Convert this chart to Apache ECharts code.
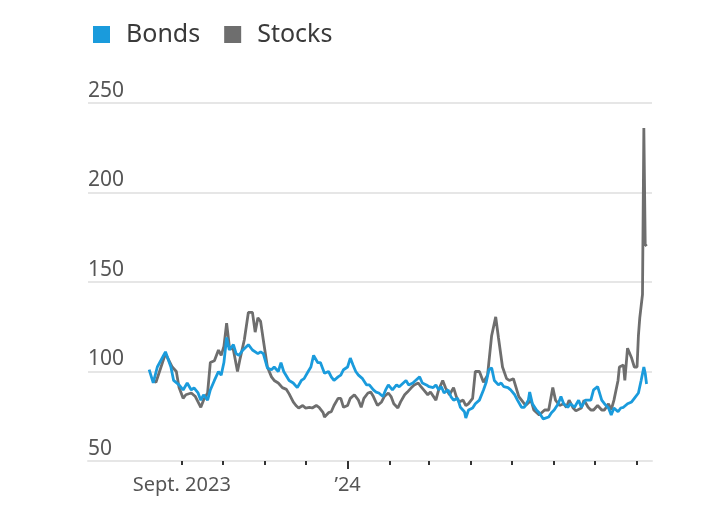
<!DOCTYPE html>
<html>
<head>
<meta charset="utf-8">
<script src="https://cdn.jsdelivr.net/npm/echarts@6/dist/echarts.min.js"></script>
<style>
  html, body { margin: 0; padding: 0; background: #fff; }
  #chart { width: 727px; height: 520px; }
</style>
</head>
<body>
<div id="chart"></div>
<script>
// Bonds vs Stocks, daily-ish readings
const bondDates = [
  '2023-08-08','2023-08-11','2023-08-14','2023-08-20','2023-08-24','2023-08-26','2023-08-30',
  '2023-09-02','2023-09-05','2023-09-08','2023-09-10','2023-09-13','2023-09-15','2023-09-17','2023-09-20','2023-09-22','2023-09-25','2023-09-28','2023-09-30',
  '2023-10-02','2023-10-04','2023-10-06','2023-10-09','2023-10-11','2023-10-13','2023-10-16','2023-10-20','2023-10-23','2023-10-27','2023-10-29','2023-10-31',
  '2023-11-03','2023-11-06','2023-11-08','2023-11-11','2023-11-13','2023-11-15','2023-11-19','2023-11-22','2023-11-25','2023-11-28','2023-11-30',
  '2023-12-03','2023-12-05','2023-12-07','2023-12-10','2023-12-12','2023-12-15','2023-12-18','2023-12-20','2023-12-22','2023-12-25','2023-12-27','2023-12-29',
  '2024-01-01','2024-01-03','2024-01-05','2024-01-07','2024-01-09','2024-01-12','2024-01-15','2024-01-17','2024-01-20','2024-01-22','2024-01-24','2024-01-27','2024-01-29','2024-01-31',
  '2024-02-03','2024-02-06','2024-02-08','2024-02-11','2024-02-13','2024-02-15','2024-02-18','2024-02-20','2024-02-23','2024-02-25','2024-02-28',
  '2024-03-01','2024-03-04','2024-03-06','2024-03-08','2024-03-10','2024-03-12','2024-03-15','2024-03-17','2024-03-19','2024-03-22','2024-03-24','2024-03-27','2024-03-28','2024-03-30',
  '2024-04-02','2024-04-04','2024-04-07','2024-04-10','2024-04-12','2024-04-14','2024-04-16','2024-04-18','2024-04-21','2024-04-23','2024-04-25','2024-04-28','2024-04-30',
  '2024-05-03','2024-05-05','2024-05-08','2024-05-10','2024-05-13','2024-05-14','2024-05-16','2024-05-19','2024-05-21','2024-05-24','2024-05-28','2024-05-30',
  '2024-06-01','2024-06-04','2024-06-06','2024-06-08','2024-06-11','2024-06-13','2024-06-16','2024-06-19','2024-06-21','2024-06-24','2024-06-28','2024-06-30',
  '2024-07-03','2024-07-06','2024-07-08','2024-07-11','2024-07-13','2024-07-15','2024-07-18','2024-07-20','2024-07-22','2024-07-25','2024-07-28','2024-07-30',
  '2024-08-02','2024-08-04','2024-08-06','2024-08-07','2024-08-08'
];
const bondValues = [
  101, 93.6, 102.5, 111, 102.5, 95, 92.5,
  89.7, 93.6, 89.7, 90.8, 88, 84, 87, 84, 89.7, 95, 100, 98,
  105, 119, 112, 115, 110, 109, 112, 115, 112, 110, 111, 110,
  102, 101, 102.5, 100, 105, 100, 95, 93.6, 91, 95, 96,
  100, 102.5, 109, 105, 105, 99, 100, 97, 95, 97, 98, 101,
  102.5, 107.5, 103.6, 100, 98, 96, 92.5, 92.5, 89.7, 88.5, 88, 86, 89.7, 92.5,
  89.7, 92.5, 91.5, 93.6, 95, 92.5, 93.6, 95, 97, 93.6, 92.5,
  91.5, 91, 92.5, 89.7, 91.5, 88, 89.7, 86, 84, 85, 80, 77.5, 74, 78.5,
  79.6, 82, 84, 89.7, 94, 101, 102, 95, 92.5, 93.6, 91.5, 91, 89.7,
  87, 84, 80, 80, 84, 88.5, 82, 78.5, 77, 73.5, 74.6, 77,
  78.5, 82, 86, 82, 80, 82, 80, 84, 80, 84, 84, 89.7,
  91.5, 84, 82, 79.6, 75.7, 79.6, 77.5, 79.6, 80, 82, 83, 85,
  88, 95, 102.5, 99, 93
];

const stockDates = [
  '2023-08-11','2023-08-13','2023-08-20','2023-08-25','2023-08-28','2023-08-30',
  '2023-09-02','2023-09-04','2023-09-08','2023-09-11','2023-09-15','2023-09-17','2023-09-20','2023-09-22','2023-09-25','2023-09-28','2023-09-30',
  '2023-10-02','2023-10-04','2023-10-06','2023-10-09','2023-10-12','2023-10-14','2023-10-17','2023-10-20','2023-10-23','2023-10-25','2023-10-27','2023-10-29','2023-10-31',
  '2023-11-03','2023-11-06','2023-11-08','2023-11-11','2023-11-14','2023-11-17','2023-11-19','2023-11-22','2023-11-24','2023-11-26','2023-11-29',
  '2023-12-01','2023-12-04','2023-12-06','2023-12-09','2023-12-11','2023-12-14','2023-12-15','2023-12-18','2023-12-20','2023-12-22','2023-12-25','2023-12-27','2023-12-29',
  '2024-01-01','2024-01-03','2024-01-06','2024-01-09','2024-01-11','2024-01-13','2024-01-16','2024-01-18','2024-01-20','2024-01-23','2024-01-26','2024-01-28','2024-01-31',
  '2024-02-02','2024-02-04','2024-02-07','2024-02-09','2024-02-12','2024-02-14','2024-02-17','2024-02-19','2024-02-22','2024-02-24','2024-02-26','2024-02-29',
  '2024-03-02','2024-03-06','2024-03-08','2024-03-11','2024-03-13','2024-03-16','2024-03-19','2024-03-21','2024-03-23','2024-03-26','2024-03-28','2024-03-30',
  '2024-04-02','2024-04-04','2024-04-07','2024-04-10','2024-04-13','2024-04-16','2024-04-19','2024-04-21','2024-04-24','2024-04-27','2024-04-29',
  '2024-05-02','2024-05-04','2024-05-06','2024-05-09','2024-05-11','2024-05-15','2024-05-17','2024-05-21','2024-05-25','2024-05-28','2024-05-31',
  '2024-06-02','2024-06-05','2024-06-08','2024-06-10','2024-06-12','2024-06-15','2024-06-17','2024-06-21','2024-06-23','2024-06-26','2024-06-28','2024-06-30',
  '2024-07-03','2024-07-06','2024-07-08','2024-07-11','2024-07-13','2024-07-15','2024-07-18','2024-07-19','2024-07-22','2024-07-23','2024-07-25','2024-07-28','2024-07-30',
  '2024-08-01','2024-08-02','2024-08-03','2024-08-05','2024-08-06','2024-08-07','2024-08-08'
];
const stockValues = [
  95, 94, 110, 102.5, 100, 91,
  85, 87, 88, 86, 80, 84, 88, 105, 106, 112, 109,
  114, 127, 114, 112, 100, 107.5, 117.6, 133, 133, 122, 130, 128, 117.6,
  102.5, 97, 95, 93.6, 91, 90, 87.5, 83, 81, 79.6, 81,
  79.6, 80, 79.6, 81, 80, 77, 74.6, 77, 77.5, 81, 85, 85, 80,
  81, 85, 87, 84, 80, 85, 88, 88.5, 86, 81, 83, 86, 88,
  86, 82, 79.6, 83, 87, 88.5, 91, 92.5, 93.6, 91.5, 89.7, 87,
  88.5, 84, 89.7, 95, 91, 87, 91, 86, 83, 84, 81, 82,
  85, 100, 100, 94, 98, 120, 130.5, 119, 102.5, 96, 95,
  96, 91, 86, 83, 81, 84, 78.5, 75.7, 78.5, 78.5, 91,
  84, 81, 82, 80, 84, 79.6, 78, 79.6, 84, 80, 78.5, 78.5,
  81, 78.5, 78.5, 82, 78.5, 84, 95, 102.5, 103.6, 95, 113, 107.5, 102.5,
  102.5, 120, 130, 143, 236, 171, 170
];

// axis ticks / labels
const monthTicks = [
  '2023-09-01','2023-10-01','2023-11-01','2023-12-01','2024-01-01','2024-02-01',
  '2024-03-01','2024-04-01','2024-05-01','2024-06-01','2024-07-01','2024-08-01'
];
const yearTicks = ['2024-01-01'];
const xLabelDates = ['2023-09-01', '2024-01-01'];
const xLabelTexts = ['Sept. 2023', '\u201924'];
const xMin = '2023-06-24';
const xMax = '2024-08-12';

const ts = s => new Date(s + 'T00:00:00Z').getTime();
const labelMap = {};
xLabelDates.forEach((d, i) => { labelMap[ts(d)] = xLabelTexts[i]; });

const FONT = 'Noto Sans';

const myChart = echarts.init(document.getElementById('chart'));
const option = {
  animation: false,
  color: ['#1a9bdc', '#6e6e6e'],
  textStyle: { fontFamily: FONT },
  legend: {
    data: ['Bonds', 'Stocks'],
    left: 88,
    top: 17,
    icon: 'rect',
    itemWidth: 17,
    itemHeight: 17,
    itemGap: 24,
    textStyle: { fontSize: 25, color: '#3a3a3a', fontFamily: FONT, padding: [0, 0, 0, 11] }
  },
  grid: {
    left: 88,
    right: 75,
    top: 103,
    bottom: 59,
    containLabel: false,
    outerBoundsMode: 'none'
  },
  xAxis: [
    {
      type: 'value',
      min: ts(xMin),
      max: ts(xMax),
      axisLine: { show: true, lineStyle: { color: '#e6e6e6', width: 2 } },
      axisTick: {
        show: true,
        customValues: monthTicks.map(ts),
        length: 4,
        lineStyle: { color: '#333', width: 2 }
      },
      axisLabel: {
        customValues: xLabelDates.map(ts),
        formatter: v => labelMap[v] || '',
        fontSize: 20,
        color: '#555',
        margin: 14,
        fontFamily: FONT
      },
      splitLine: { show: false }
    },
    {
      type: 'value',
      position: 'bottom',
      min: ts(xMin),
      max: ts(xMax),
      axisLine: { show: false },
      axisTick: {
        show: true,
        customValues: yearTicks.map(ts),
        length: 8,
        lineStyle: { color: '#333', width: 2 }
      },
      axisLabel: { show: false },
      splitLine: { show: false }
    }
  ],
  yAxis: {
    type: 'value',
    min: 50,
    max: 250,
    interval: 50,
    axisLine: { show: false },
    axisTick: { show: false },
    axisLabel: {
      inside: true,
      margin: 0,
      align: 'left',
      verticalAlign: 'bottom',
      lineHeight: 22,
      padding: [0, 0, 1, 0],
      fontSize: 21,
      color: '#555',
      fontFamily: FONT
    },
    splitLine: { lineStyle: { color: '#e6e6e6', width: 2 } }
  },
  series: [
    {
      name: 'Stocks',
      type: 'line',
      showSymbol: false,
      symbol: 'none',
      color: '#6e6e6e',
      lineStyle: { width: 2.8, color: '#6e6e6e' },
      data: stockDates.map((d, i) => [ts(d), stockValues[i]]),
      z: 2
    },
    {
      name: 'Bonds',
      type: 'line',
      showSymbol: false,
      symbol: 'none',
      color: '#1a9bdc',
      lineStyle: { width: 2.8, color: '#1a9bdc' },
      data: bondDates.map((d, i) => [ts(d), bondValues[i]]),
      z: 3
    }
  ]
};
myChart.setOption(option);
</script>
</body>
</html>
